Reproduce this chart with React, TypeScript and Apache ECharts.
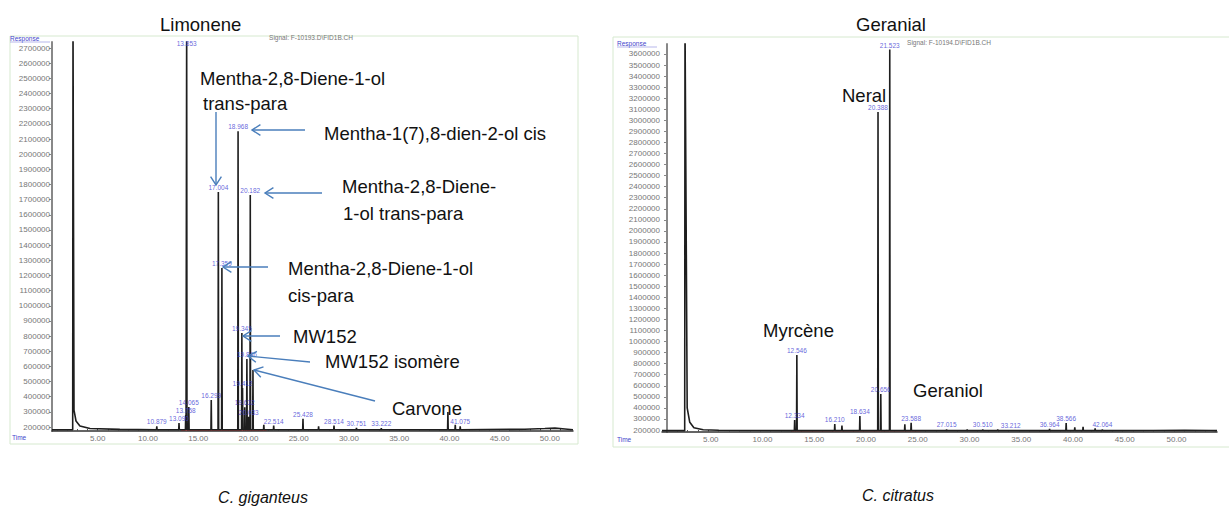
import { useEffect, useRef } from "react";
import * as echarts from "echarts";

type P = [number, number];

// ---------------- C. giganteus (left chromatogram) ----------------
const gigBaseline = 182000;
const gigPeakTimes = [2.54, 10.879, 13.09, 13.758, 13.853, 14.065, 16.299, 17.004, 17.359, 18.968, 19.345, 19.412, 19.632, 19.846, 20.033, 20.182, 20.45, 21.53, 22.514, 25.428, 26.982, 28.514, 30.751, 33.222, 39.85, 40.583, 41.075];
const gigPeakHeights = [2900000, 205000, 226000, 279000, 2900000, 332000, 378000, 1750000, 1250000, 2152000, 820000, 457000, 330000, 649000, 268000, 1730000, 576000, 215000, 210000, 255000, 205000, 210000, 195000, 192000, 300000, 215000, 205000];
const gigPeakLabels = ["", "10.879", "13.090", "13.758", "13.853", "14.065", "16.299", "17.004", "17.359", "18.968", "19.345", "19.412", "19.632", "19.846", "20.033", "20.182", "", "", "22.514", "25.428", "", "28.514", "30.751", "33.222", "", "", "41.075"];
const gigSolventTail: P[] = [[2.64, 312000], [2.84, 240000], [3.23, 207000], [4.23, 190000], [7.2, 185000]];
const gigDrift: P[] = [[47.5, 186000], [49.5, 190000], [50.5, 193000], [51.5, 187000]];
const gigYTicks = [200000, 300000, 400000, 500000, 600000, 700000, 800000, 900000, 1000000, 1100000, 1200000, 1300000, 1400000, 1500000, 1600000, 1700000, 1800000, 1900000, 2000000, 2100000, 2200000, 2300000, 2400000, 2500000, 2600000, 2700000];

// ---------------- C. citratus (right chromatogram) ----------------
const citBaseline = 194000;
const citPeakTimes = [1.74, 12.334, 12.546, 16.21, 16.902, 18.634, 20.388, 20.656, 21.523, 22.98, 23.588, 27.015, 29.003, 30.51, 31.956, 33.212, 36.964, 38.566, 39.4, 40.2, 41.364, 42.064];
const citPeakHeights = [3900000, 291000, 878000, 255000, 240000, 327000, 3076000, 526000, 3640000, 252000, 265000, 205000, 205000, 205000, 205000, 200000, 210000, 262000, 225000, 230000, 215000, 205000];
const citPeakLabels = ["", "12.334", "12.546", "16.210", "", "18.634", "20.388", "20.656", "21.523", "", "23.588", "27.015", "", "30.510", "", "33.212", "36.964", "38.566", "", "", "", "42.064"];
const citSolventTail: P[] = [[1.95, 400000], [2.2, 270000], [2.6, 220000], [3.5, 203000], [5.0, 198000]];
const citDrift: P[] = [[47.0, 196000], [50.0, 198000], [52.5, 196000]];
const citYTicks = [200000, 300000, 400000, 500000, 600000, 700000, 800000, 900000, 1000000, 1100000, 1200000, 1300000, 1400000, 1500000, 1600000, 1700000, 1800000, 1900000, 2000000, 2100000, 2200000, 2300000, 2400000, 2500000, 2600000, 2700000, 2800000, 2900000, 3000000, 3100000, 3200000, 3300000, 3400000, 3500000, 3600000];

const timeLabels = [5, 10, 15, 20, 25, 30, 35, 40, 45, 50];

const FONT = '"Liberation Sans", Arial, sans-serif';
const ARROW = "#4a7ebb";

function buildTrace(base: number, xmin: number, xmax: number, times: number[], heights: number[], tail: P[], drift: P[]): P[] {
  const pts: P[] = [[xmin, base], [xmax, base]];
  times.forEach((t, i) => {
    pts.push([t - 0.03, base], [t, heights[i]]);
    if (i !== 0) pts.push([t + 0.03, base]);
  });
  tail.forEach((p) => pts.push(p));
  drift.forEach((p) => pts.push(p));
  pts.sort((a, b) => a[0] - b[0]);
  return pts;
}

function labelData(times: number[], heights: number[], labels: string[], base: number, clampTop: number) {
  const out: any[] = [];
  times.forEach((t, i) => {
    if (!labels[i]) return;
    out.push({ name: labels[i], value: [t, Math.max(base, Math.min(heights[i], clampTop))] });
  });
  return out;
}

function arrow(x1: number, y1: number, x2: number, y2: number): any[] {
  const ang = Math.atan2(y2 - y1, x2 - x1);
  const L = 10;
  const a = Math.PI / 5.5;
  const p1 = [x2 - L * Math.cos(ang - a), y2 - L * Math.sin(ang - a)];
  const p2 = [x2 - L * Math.cos(ang + a), y2 - L * Math.sin(ang + a)];
  const style = { stroke: ARROW, lineWidth: 1.4, fill: null };
  return [
    { type: "line", z: 100, shape: { x1, y1, x2, y2 }, style },
    { type: "polyline", z: 100, shape: { points: [p1, [x2, y2], p2] }, style },
  ];
}

function txt(text: string, x: number, y: number, size = 18.5, extra: any = {}): any {
  return {
    type: "text",
    z: 100,
    x,
    y,
    style: {
      text,
      fontSize: size,
      fontFamily: FONT,
      fill: "#111",
      align: "left",
      verticalAlign: "middle",
      ...extra,
    },
  };
}

function xAxisCfg(gridIndex: number, min: number, max: number, labelPad: number): any {
  const minutes: number[] = [];
  for (let m = Math.ceil(min); m <= Math.floor(max); m++) minutes.push(m);
  return {
    type: "value",
    gridIndex,
    min,
    max,
    axisLine: { show: true, onZero: false, lineStyle: { color: "#333", width: 1.5 } },
    axisTick: { show: true, customValues: minutes, length: 2, inside: true, lineStyle: { color: "#555" } },
    axisLabel: {
      customValues: timeLabels,
      formatter: (v: number) => v.toFixed(2),
      fontSize: 8,
      color: "#777",
      fontFamily: FONT,
      margin: 3,
      padding: [0, labelPad, 0, 0],
    },
    splitLine: { show: false },
  };
}

function yAxisCfg(gridIndex: number, min: number, max: number, ticks: number[]): any {
  return {
    type: "value",
    gridIndex,
    min,
    max,
    axisLine: { show: true, lineStyle: { color: "#888", width: 2 } },
    axisTick: { show: true, customValues: ticks, length: 3, lineStyle: { color: "#888" } },
    axisLabel: { customValues: ticks, fontSize: 8, color: "#777", fontFamily: FONT, margin: 2, formatter: (v: number) => String(v) },
    splitLine: { show: false },
  };
}

export default function App() {
  const ref = useRef<HTMLDivElement>(null);

  useEffect(() => {
    if (!ref.current) return;
    const chart = echarts.init(ref.current, null, { renderer: "svg" });

    const gigX: P = [0.45, 52.3];
    const gigY: P = [174000, 2740000];
    const citX: P = [-0.483, 53.14];
    const citY: P = [182000, 3690000];

    const labelStyle = {
      show: true,
      position: "top",
      distance: 1,
      formatter: "{b}",
      fontSize: 6.5,
      color: "#3c3cd2",
      fontFamily: FONT,
    };

    const graphic: any[] = [
      // frames
      { type: "rect", z: 0, shape: { x: 10, y: 36, width: 568, height: 408 }, style: { stroke: "#d6e9cf", fill: null, lineWidth: 1 } },
      { type: "rect", z: 0, shape: { x: 613, y: 37, width: 630, height: 410 }, style: { stroke: "#d6e9cf", fill: null, lineWidth: 1 } },
      // instrument texts
      txt("Response", 10, 38, 6.5, { fill: "#4444cc" }),
      { type: "line", z: 100, shape: { x1: 10, y1: 42, x2: 50, y2: 42 }, style: { stroke: "#8888dd", lineWidth: 0.6 } },
      txt("Response", 617, 43, 6.5, { fill: "#4444cc" }),
      { type: "line", z: 100, shape: { x1: 617, y1: 47, x2: 657, y2: 47 }, style: { stroke: "#8888dd", lineWidth: 0.6 } },
      txt("Time", 12, 437, 6.5, { fill: "#4444cc" }),
      txt("Time", 617, 439, 6.5, { fill: "#4444cc" }),
      txt("Signal: F-10193.D\\FID1B.CH", 311, 37, 6.5, { fill: "#777", align: "center" }),
      txt("Signal: F-10194.D\\FID1B.CH", 949, 42, 6.5, { fill: "#777", align: "center" }),
      // left annotations
      txt("Limonene", 160, 24),
      txt("Mentha-2,8-Diene-1-ol", 200, 78.5),
      txt("trans-para", 203, 103.5),
      txt("Mentha-1(7),8-dien-2-ol cis", 324, 133.5),
      txt("Mentha-2,8-Diene-", 342, 186.5),
      txt("1-ol trans-para", 343, 213.5),
      txt("Mentha-2,8-Diene-1-ol", 288, 268.5),
      txt("cis-para", 288, 295.5),
      txt("MW152", 293, 336.5),
      txt("MW152 isomère", 325, 361.5),
      txt("Carvone", 392, 408.5),
      ...arrow(216, 112, 216, 185),
      ...arrow(305, 130, 252, 130),
      ...arrow(322, 193, 265, 193),
      ...arrow(268, 267, 223, 267),
      ...arrow(280, 336, 243, 336),
      ...arrow(310, 362, 248, 356),
      ...arrow(375, 401, 254, 370),
      // right annotations
      txt("Geranial", 856, 24),
      txt("Neral", 842, 95.5),
      txt("Myrcène", 763, 330.5),
      txt("Geraniol", 913, 390.5),
      // captions
      txt("C. giganteus", 263, 497, 16, { align: "center", fontStyle: "italic", fontFamily: '"Liberation Sans Narrow", "Liberation Sans", Arial, sans-serif' }),
      txt("C. citratus", 898, 495, 16, { align: "center", fontStyle: "italic", fontFamily: '"Liberation Sans Narrow", "Liberation Sans", Arial, sans-serif' }),
    ];

    chart.setOption({
      animation: false,
      backgroundColor: "#ffffff",
      grid: [
        { left: 52, top: 42, width: 521, height: 389 },
        { left: 662, top: 44, width: 555, height: 388 },
      ],
      xAxis: [xAxisCfg(0, gigX[0], gigX[1], 0), xAxisCfg(1, citX[0], citX[1], 16)],
      yAxis: [yAxisCfg(0, gigY[0], gigY[1], gigYTicks), yAxisCfg(1, citY[0], citY[1], citYTicks)],
      series: [
        {
          type: "line",
          xAxisIndex: 0,
          yAxisIndex: 0,
          data: [[13.3, gigBaseline], [21.8, gigBaseline]],
          showSymbol: false,
          lineStyle: { color: "#d42a2a", width: 1.2 },
          z: 2,
        },
        {
          type: "line",
          xAxisIndex: 0,
          yAxisIndex: 0,
          data: buildTrace(gigBaseline, gigX[0], gigX[1], gigPeakTimes, gigPeakHeights, gigSolventTail, gigDrift),
          showSymbol: false,
          clip: true,
          lineStyle: { color: "#1e1e1e", width: 1.6 },
          z: 3,
        },
        {
          type: "scatter",
          xAxisIndex: 0,
          yAxisIndex: 0,
          symbolSize: 0,
          data: labelData(gigPeakTimes, gigPeakHeights, gigPeakLabels, gigBaseline, 2700000),
          label: labelStyle,
          z: 4,
        },
        {
          type: "line",
          xAxisIndex: 1,
          yAxisIndex: 1,
          data: [[12.0, citBaseline], [24.5, citBaseline]],
          showSymbol: false,
          lineStyle: { color: "#d42a2a", width: 1.2 },
          z: 2,
        },
        {
          type: "line",
          xAxisIndex: 1,
          yAxisIndex: 1,
          data: buildTrace(citBaseline, citX[0], citX[1], citPeakTimes, citPeakHeights, citSolventTail, citDrift),
          showSymbol: false,
          clip: true,
          lineStyle: { color: "#1e1e1e", width: 1.6 },
          z: 3,
        },
        {
          type: "scatter",
          xAxisIndex: 1,
          yAxisIndex: 1,
          symbolSize: 0,
          data: labelData(citPeakTimes, citPeakHeights, citPeakLabels, citBaseline, 3640000),
          label: labelStyle,
          z: 4,
        },
      ],
      graphic,
    });

    return () => chart.dispose();
  }, []);

  return (
    <div
      ref={ref}
      style={{ position: "fixed", left: 0, top: 0, width: 1229, height: 512, background: "#fff" }}
    />
  );
}
